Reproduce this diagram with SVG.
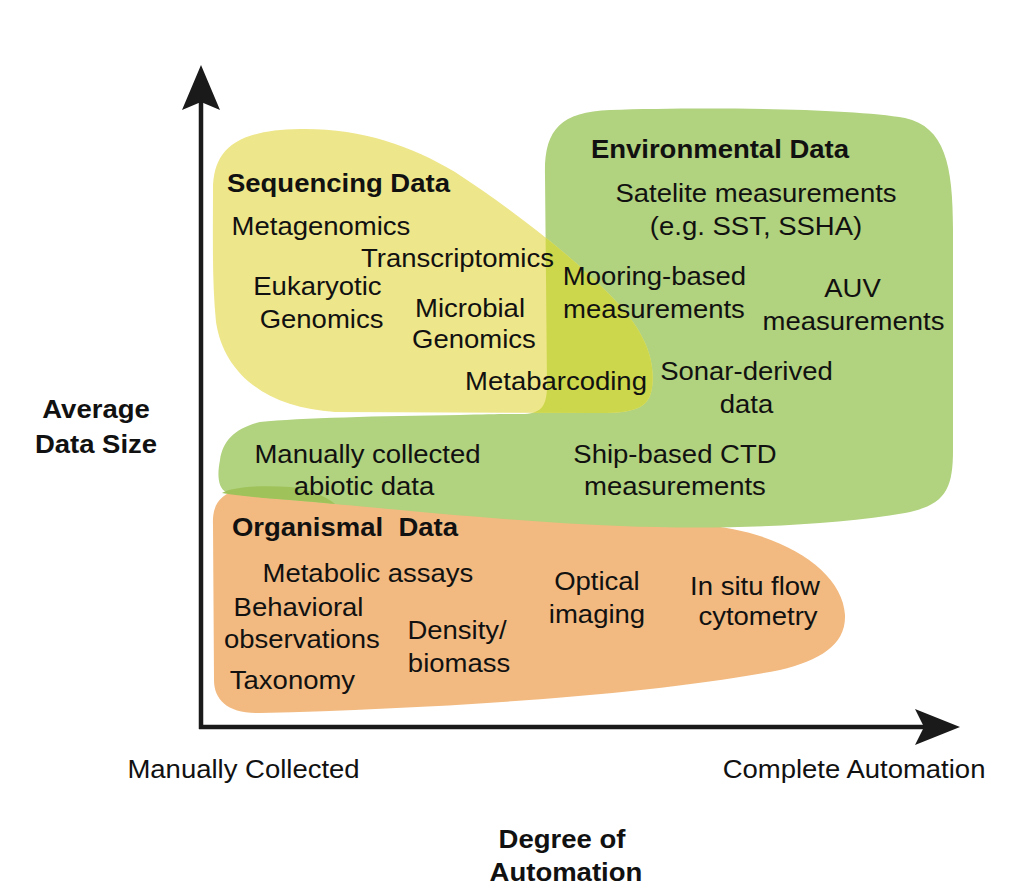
<svg xmlns="http://www.w3.org/2000/svg" xmlns:xlink="http://www.w3.org/1999/xlink" width="1010" height="896" viewBox="0 0 1010 896">
<style>
.t{font-family:"Liberation Sans",Arial,Helvetica,sans-serif;font-size:25px;fill:#111;text-anchor:middle}
.b{font-weight:bold}
.ax{stroke:#1a1a1a;stroke-width:4.5;fill:none}
.ah{fill:#1a1a1a}
</style>
<defs>
<path id="greenP" d="M547,385 L545,175 C544,130 560,112 610,110 C700,107 850,108 905,118 C945,127 953,165 953,230 L953,450 C953,490 945,505 905,513 C830,526 720,530 620,526 C520,522 400,510 335,504 C290,500 245,497 226,492 C218,488 217,475 220,460 C223,440 236,428 260,422 C300,418 380,416 460,415 C490,414 510,414 525,414 C542,413 547,405 547,385 Z"/>
<path id="yellowP" d="M213,190 C213,150 235,130 300,129 C360,128 410,145 455,172 C505,205 560,245 610,295 C645,330 656,360 652,388 C649,408 635,413 600,413 L335,412 C268,408 224,375 216,322 C212,282 213,240 213,190 Z"/>
<clipPath id="clipGreen"><use xlink:href="#greenP"/></clipPath>
</defs>
<rect width="1010" height="896" fill="#ffffff"/>

<g id="organismal">
<path d="M213,525 C212,505 220,493 240,490 C270,486 300,488 330,497 C450,513 600,522 700,525 C780,530 843,570 845,615 C846,645 820,660 780,670 C650,695 450,708 260,713 C228,714 214,700 214,680 L213,525 Z" fill="#f2ba80"/>
</g>

<g id="environmental">
<use xlink:href="#greenP" fill="#b1d27e"/>
<path d="M222,493 C232,487 260,485 290,487 C310,489 325,496 335,504 C295,500 250,498 222,493 Z" fill="#a0c25a"/>
</g>

<g id="sequencing">
<use xlink:href="#yellowP" fill="#eee68a"/>
<use xlink:href="#yellowP" fill="#cdd74c" clip-path="url(#clipGreen)"/>
</g>

<g id="sequencing-text" transform="scale(1.1,1)">
<text class="t b" x="307.7" y="192">Sequencing Data</text>
<text class="t" x="291.8" y="235">Metagenomics</text>
<text class="t" x="415.9" y="267">Transcriptomics</text>
<text class="t" x="288.6" y="295">Eukaryotic</text>
<text class="t" x="292.3" y="328">Genomics</text>
<text class="t" x="427.3" y="317">Microbial</text>
<text class="t" x="430.9" y="348">Genomics</text>
<text class="t" x="505.5" y="390">Metabarcoding</text>
</g>

<g id="environmental-text" transform="scale(1.1,1)">
<text class="t b" x="654.5" y="158">Environmental Data</text>
<text class="t" x="687.3" y="202">Satelite measurements</text>
<text class="t" x="687.3" y="235">(e.g. SST, SSHA)</text>
<text class="t" x="595" y="285">Mooring-based</text>
<text class="t" x="594.5" y="318">measurements</text>
<text class="t" x="775" y="297">AUV</text>
<text class="t" x="775.9" y="330">measurements</text>
<text class="t" x="678.6" y="380">Sonar-derived</text>
<text class="t" x="678.6" y="413">data</text>
<text class="t" x="613.6" y="463">Ship-based CTD</text>
<text class="t" x="613.6" y="495">measurements</text>
<text class="t" x="334.1" y="463">Manually collected</text>
<text class="t" x="330.9" y="495">abiotic data</text>
</g>

<g id="organismal-text" transform="scale(1.1,1)">
<text class="t b" x="313.6" y="536" xml:space="preserve" style="white-space:pre">Organismal  Data</text>
<text class="t" x="334.5" y="582">Metabolic assays</text>
<text class="t" x="271.4" y="616">Behavioral</text>
<text class="t" x="274.5" y="648">observations</text>
<text class="t" x="265.9" y="689">Taxonomy</text>
<text class="t" x="415.5" y="639">Density/</text>
<text class="t" x="417.3" y="672">biomass</text>
<text class="t" x="542.7" y="590">Optical</text>
<text class="t" x="542.7" y="623">imaging</text>
<text class="t" x="686.4" y="595">In situ flow</text>
<text class="t" x="689.1" y="625">cytometry</text>
</g>

<g id="axes">
<line class="ax" x1="201" y1="100" x2="201" y2="729"/>
<polygon class="ah" points="201,65 220,110 201,102 182,110"/>
<line class="ax" x1="199" y1="727" x2="925" y2="727"/>
<polygon class="ah" points="960,727 915,745 924,727 915,709"/>
</g>

<g id="axis-labels" transform="scale(1.1,1)">
<text class="t b" x="87.3" y="418">Average</text>
<text class="t b" x="87.3" y="453">Data Size</text>
<text class="t" x="221.4" y="778">Manually Collected</text>
<text class="t" x="776.4" y="778">Complete Automation</text>
<text class="t b" x="510.9" y="848">Degree of</text>
<text class="t b" x="514.5" y="881">Automation</text>
</g>
</svg>
